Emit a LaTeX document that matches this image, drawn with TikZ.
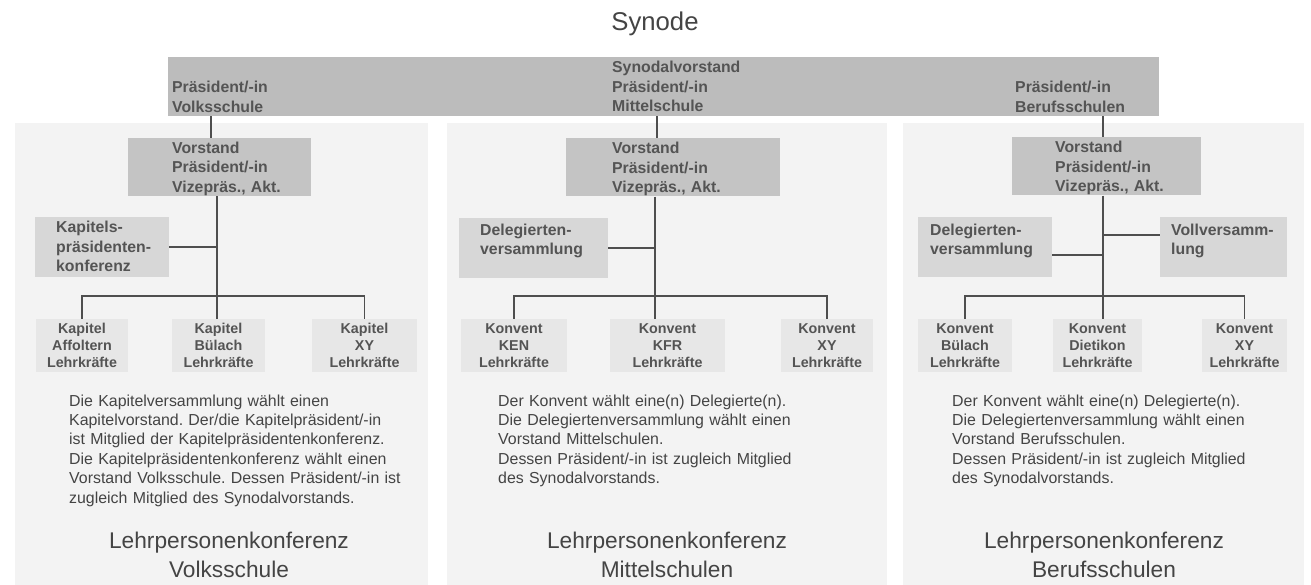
\documentclass[tikz,border=0pt]{standalone}
\usepackage{fontspec}
\setmainfont{Liberation Sans}
\frenchspacing
\definecolor{barfill}{RGB}{188,188,188}
\definecolor{vsfill}{RGB}{196,196,196}
\definecolor{sidefill}{RGB}{215,215,215}
\definecolor{kfill}{RGB}{231,231,231}
\definecolor{panelfill}{RGB}{243,243,243}
\definecolor{boxtext}{RGB}{84,84,84}
\definecolor{paratext}{RGB}{68,68,68}
\definecolor{linecol}{RGB}{78,78,78}
\newcommand\bfont{\fontsize{15.8}{19.5}\selectfont\bfseries}
\newcommand\kfont{\fontsize{14.3}{17}\selectfont\bfseries}
\newcommand\pfont{\fontsize{15.9}{19.4}\selectfont}
\newcommand\ffont{\fontsize{22.7}{29}\selectfont}
\newcommand\tfont{\fontsize{25.7}{30}\selectfont}
\begin{document}
\begin{tikzpicture}[x=1pt,y=-1pt,
   topbar/.style={fill=barfill,inner sep=0pt,minimum width=991pt,minimum height=59pt},
   vsbox/.style={fill=vsfill,inner sep=0pt,minimum height=58pt},
   sidebox/.style={fill=sidefill,inner sep=0pt,minimum height=60pt},
   kbox/.style={fill=kfill,inner sep=0pt,minimum height=53pt,align=center,font=\kfont,text=boxtext},
   btext/.style={inner sep=0pt,anchor=base west,text width=160pt,align=left,font=\bfont,text=boxtext},
   para/.style={inner sep=0pt,anchor=base west,text width=345pt,align=left,font=\pfont,text=paratext},
   foot/.style={inner sep=0pt,anchor=base,text width=300pt,align=center,font=\ffont,text=paratext},
   conn/.style={draw=linecol,line width=1.8pt}]
\useasboundingbox (0,0) rectangle (1311,585);
\fill[panelfill] (15,123) rectangle (428,585);
\fill[panelfill] (447,123) rectangle (887,585);
\fill[panelfill] (903,123) rectangle (1304,585);

\node[anchor=base,inner sep=0pt,font=\tfont,text=paratext] (synode) at (655,31) {Synode};

\node[topbar] (bar) at (663.5,86.5) {};
\node[btext] (barL) at (172,92.6) {Präsident/-in\\Volksschule};
\node[btext] (barM) at (612,73) {Synodalvorstand\\Präsident/-in\\Mittelschule};
\node[btext] (barR) at (1015,92.6) {Präsident/-in\\Berufsschulen};

\node[vsbox,minimum width=183pt] (vsL) at (219.5,167) {};
\node[vsbox,minimum width=214pt] (vsM) at (673,167.5) {};
\node[vsbox,minimum width=189pt] (vsR) at (1106.5,166.5) {};
\node[btext] (vsLt) at (172,153.5) {Vorstand\\Präsident/-in\\Vizepräs., Akt.};
\node[btext] (vsMt) at (612,154) {Vorstand\\Präsident/-in\\Vizepräs., Akt.};
\node[btext] (vsRt) at (1055,153) {Vorstand\\Präsident/-in\\Vizepräs., Akt.};

\node[sidebox,minimum width=134pt] (kpk) at (102,247) {};
\node[btext] (kpkt) at (56,232.6) {Kapitels-\\präsidenten-\\konferenz};
\node[sidebox,minimum width=149pt] (dvM) at (533.5,248) {};
\node[btext] (dvMt) at (480,235.5) {Delegierten-\\versammlung};
\node[sidebox,minimum width=134pt] (dvR) at (985,247) {};
\node[btext] (dvRt) at (930,235.5) {Delegierten-\\versammlung};
\node[sidebox,minimum width=127pt] (vvR) at (1223.5,247) {};
\node[btext] (vvRt) at (1171,235.5) {Vollversamm-\\lung};

\node[kbox,minimum width=92pt] (kapA) at (82,345.5) {Kapitel\\Affoltern\\Lehrkräfte};
\node[kbox,minimum width=93pt] (kapB) at (218.5,345.5) {Kapitel\\Bülach\\Lehrkräfte};
\node[kbox,minimum width=105pt] (kapX) at (364.5,345.5) {Kapitel\\XY\\Lehrkräfte};
\node[kbox,minimum width=106pt] (konKEN) at (514,345.5) {Konvent\\KEN\\Lehrkräfte};
\node[kbox,minimum width=115pt] (konKFR) at (667.5,345.5) {Konvent\\KFR\\Lehrkräfte};
\node[kbox,minimum width=92pt] (konMXY) at (827,345.5) {Konvent\\XY\\Lehrkräfte};
\node[kbox,minimum width=94pt] (konBue) at (965,345.5) {Konvent\\Bülach\\Lehrkräfte};
\node[kbox,minimum width=89pt] (konDie) at (1097.5,345.5) {Konvent\\Dietikon\\Lehrkräfte};
\node[kbox,minimum width=85pt] (konRXY) at (1244.5,345.5) {Konvent\\XY\\Lehrkräfte};

\coordinate (spLt) at (211,0);
\coordinate (spL) at (217,0);
\coordinate (spMt) at (657,0);
\coordinate (spM) at (655,0);
\coordinate (spR) at (1103,0);
\coordinate (hubDv) at (1103,255);
\coordinate (hubVv) at (1103,235);

\draw[conn] (bar.south -| spLt) -- (vsL.north -| spLt);
\draw[conn] (vsL.south -| spL) -- (kapB.north -| spL);
\draw[conn] (kpk.east) -- (kpk.east -| spL);
\draw[conn] (kapA.north) -- ++(0,-23) -| (kapX.north);

\draw[conn] (bar.south -| spMt) -- (vsM.north -| spMt);
\draw[conn] (vsM.south -| spM) -- (konKFR.north -| spM);
\draw[conn] (dvM.east) -- (dvM.east -| spM);
\draw[conn] (konKEN.north) -- ++(0,-23) -| (konMXY.north);

\draw[conn] (bar.south -| spR) -- (vsR.north -| spR);
\draw[conn] (vsR.south -| spR) -- (konDie.north -| spR);
\draw[conn] ([yshift=-8pt]dvR.east) -- (hubDv);
\draw[conn] (hubVv) -- ([yshift=12pt]vvR.west);
\draw[conn] (konBue.north) -- ++(0,-23) -| (konRXY.north);

\node[para] (txtL) at (69,406) {Die Kapitelversammlung wählt einen\\Kapitelvorstand. Der/die Kapitelpräsident/-in\\ist Mitglied der Kapitelpräsidentenkonferenz.\\Die Kapitelpräsidentenkonferenz wählt einen\\Vorstand Volksschule. Dessen Präsident/-in ist\\zugleich Mitglied des Synodalvorstands.};
\node[para] (txtM) at (498,406) {Der Konvent wählt eine(n) Delegierte(n).\\Die Delegiertenversammlung wählt einen\\Vorstand Mittelschulen.\\Dessen Präsident/-in ist zugleich Mitglied\\des Synodalvorstands.};
\node[para] (txtR) at (952,406) {Der Konvent wählt eine(n) Delegierte(n).\\Die Delegiertenversammlung wählt einen\\Vorstand Berufsschulen.\\Dessen Präsident/-in ist zugleich Mitglied\\des Synodalvorstands.};

\node[foot] (lkL) at (229,548) {Lehrpersonenkonferenz\\Volksschule};
\node[foot] (lkM) at (667,548) {Lehrpersonenkonferenz\\Mittelschulen};
\node[foot] (lkR) at (1104,548) {Lehrpersonenkonferenz\\Berufsschulen};
\end{tikzpicture}
\end{document}
